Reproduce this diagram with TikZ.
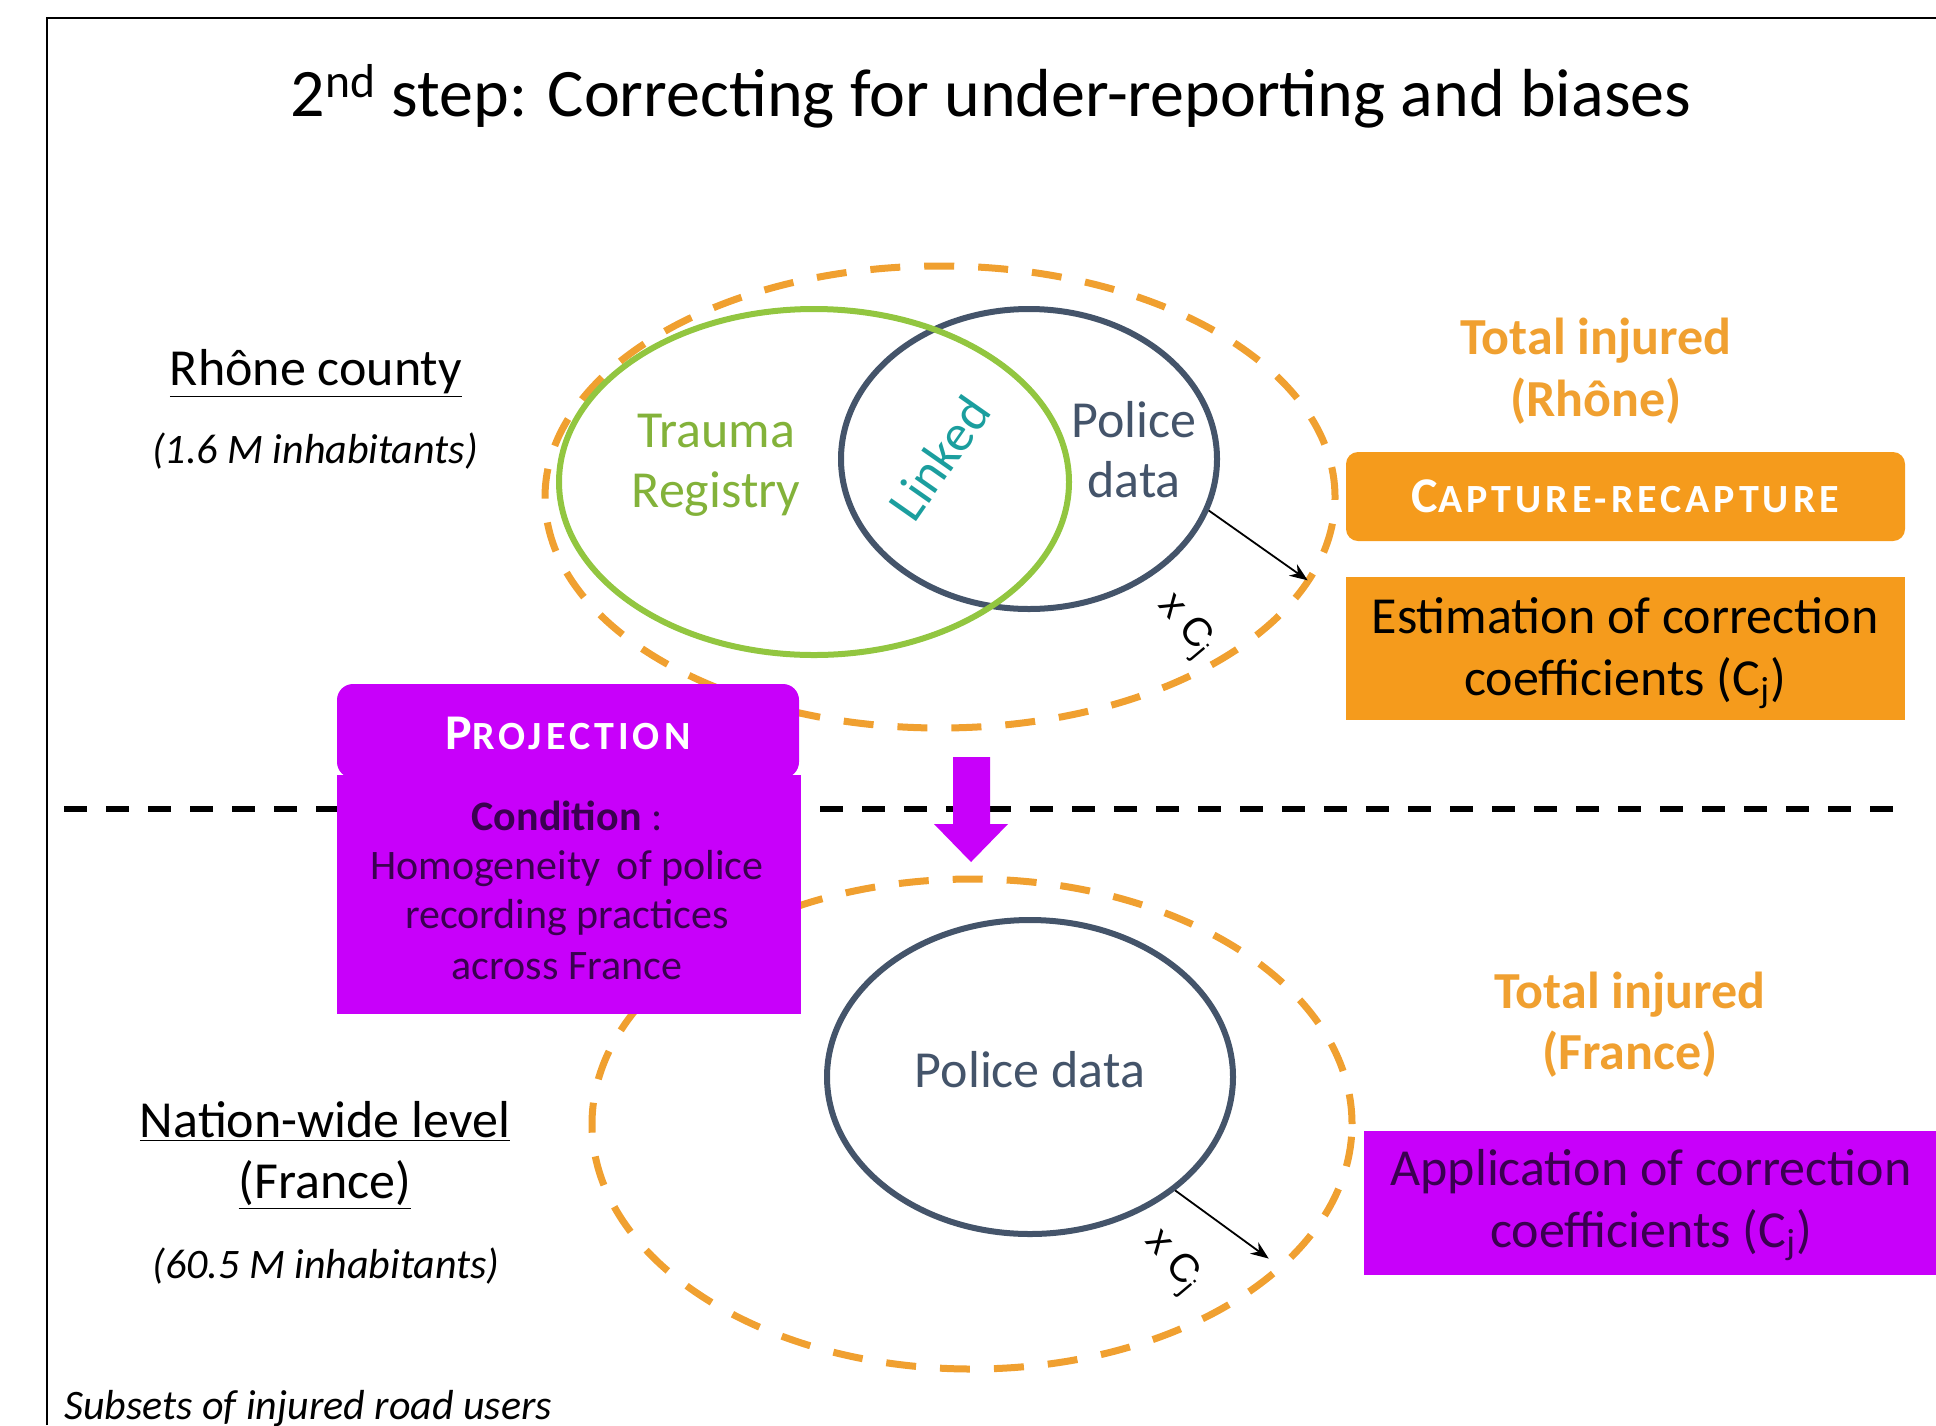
\documentclass[tikz,border=0pt]{standalone}
\usepackage{fontspec}
\setmainfont{Carlito}
\newfontfamily\arialf{Liberation Sans}
\newfontfamily\spc[LetterSpace=10]{Carlito}
\usetikzlibrary{shapes.geometric,arrows.meta}
\definecolor{orD}{HTML}{F0A030}
\definecolor{orB}{HTML}{F59B1C}
\definecolor{mag}{HTML}{C800FA}
\definecolor{grn}{HTML}{92C640}
\definecolor{slate}{HTML}{44546A}
\definecolor{tealc}{HTML}{1B9E9E}
\definecolor{darkpur}{HTML}{3A0050}
\begin{document}
\begin{tikzpicture}[x=0.5pt,y=-0.5pt,
  lab/.style={inner sep=0pt, anchor=base, font=\fontsize{26pt}{30pt}\selectfont},
  labit/.style={inner sep=0pt, anchor=base, font=\fontsize{21pt}{25pt}\selectfont\itshape},
  totlab/.style={inner sep=0pt, anchor=base, text=orD, font=\fontsize{26pt}{30pt}\selectfont\bfseries},
  orset/.style={ellipse, draw=orD, line width=3.5pt, dash pattern=on 15pt off 12pt, inner sep=0pt},
  polset/.style={ellipse, draw=slate, line width=3pt, inner sep=0pt},
  cjarrow/.style={-{Stealth[length=9pt,width=7pt]}, line width=0.9pt, black},
  cjlab/.style={inner sep=0pt, rotate=-50, font=\arialf\fontsize{20pt}{24pt}\selectfont},
  boxset/.style={inner sep=0pt, draw=none},
  captxt/.style={inner sep=0pt, text=white, font=\spc\bfseries},
  condtxt/.style={inner sep=0pt, anchor=base, text=darkpur, font=\fontsize{21pt}{25pt}\selectfont}
]
\useasboundingbox (0,0) rectangle (1936,1425);

% frame
\draw[line width=1.2pt] (47,1425) -- (47,18) -- (1936,18);

% title
\node[inner sep=0pt, anchor=base, font=\fontsize{34pt}{40pt}\selectfont] (title) at (991,116)
  {2\textsuperscript{nd} step: Correcting for under-reporting and biases};

% separating dashed line
\draw[line width=2.8pt, dash pattern=on 11.5pt off 9.5pt] (64,809) -- (1908,809);

% ---- Rhone part
\node[orset, minimum width=395pt, minimum height=231pt] (totR) at (940,497) {};
\node[polset, minimum width=188pt, minimum height=150pt] (polR) at (1029,459) {};
\node[ellipse, draw=grn, line width=3pt, inner sep=0pt, minimum width=255pt, minimum height=173pt] (trauma) at (814,482) {};

\node[lab, text=grn!90!black] (tr1) at (716,447) {Trauma};
\node[lab, text=grn!90!black] (tr2) at (716,507) {Registry};
\node[lab, text=slate] (po1) at (1134,437) {Police};
\node[lab, text=slate] (po2) at (1134,497) {data};
\node[inner sep=0pt, rotate=55, text=tealc, font=\fontsize{26pt}{30pt}\selectfont] (linked) at (939,458) {Linked};

\draw[cjarrow, shorten >=2pt] (polR.-16) -- (totR.-13.5);
\node[cjlab] (cjR) at (1185,626) {x C\textsubscript{j}};

\node[lab] (rc) at (316,385) {\underline{Rhône county}};
\node[labit] (rcinh) at (315,463) {(1.6 M inhabitants)};

\node[totlab] (tot1a) at (1596,354) {Total injured};
\node[totlab] (tot1b) at (1596,416) {(Rhône)};

\node[boxset, fill=orB, rounded corners=6pt, minimum width=279.5pt, minimum height=44.5pt] (capbox) at (1625.5,496.5) {};
\node[captxt] (captxt) at (capbox.center) {{\fontsize{25pt}{30pt}\selectfont C}{\fontsize{20pt}{24pt}\selectfont APTURE-RECAPTURE}};

\node[boxset, fill=orB, minimum width=279.5pt, minimum height=71.5pt] (estbox) at (1625.5,648.5) {};
\node[lab] (est1) at (1625,633) {Estimation of correction};
\node[lab] (est2) at (1625,695) {coefficients (C\textsubscript{j})};

% ---- France part
\node[orset, minimum width=380pt, minimum height=245pt] (totF) at (972,1124) {};
\node[polset, minimum width=203pt, minimum height=157pt] (polF) at (1030,1077) {};
\node[lab, text=slate] (pof) at (1030,1087) {Police data};

\draw[cjarrow, shorten >=9pt] (polF.-38.6) -- (totF.-25.7);
\node[cjlab] (cjF) at (1172,1262) {x C\textsubscript{j}};

\node[lab] (nw1) at (325,1137) {\underline{Nation-wide level}};
\node[lab] (nw2) at (325,1198) {\underline{(France)}};
\node[labit] (nwinh) at (326,1278) {(60.5 M inhabitants)};

\node[totlab] (tot2a) at (1630,1008) {Total injured};
\node[totlab] (tot2b) at (1630,1069) {(France)};

\node[boxset, fill=mag, minimum width=286pt, minimum height=72pt, anchor=west] (appbox) at (1364,1203) {};
\node[lab, text=darkpur] (app1) at (1651,1185) {Application of correction};
\node[lab, text=darkpur] (app2) at (1651,1247) {coefficients (C\textsubscript{j})};

% ---- Projection boxes
\node[boxset, fill=mag, rounded corners=8pt, minimum width=231pt, minimum height=47pt] (projbox) at (568,731) {};
\node[captxt] (projtxt) at (568,733) {{\fontsize{25pt}{30pt}\selectfont P}{\fontsize{20pt}{24pt}\selectfont ROJECTION}};
\node[boxset, fill=mag, minimum width=232pt, minimum height=119.5pt] (condbox) at (569,894.5) {};
\node[condtxt] (c1) at (567,830) {\textbf{Condition} :};
\node[condtxt] (c2) at (567,879) {Homogeneity\, of police};
\node[condtxt] (c3) at (567,928) {recording practices};
\node[condtxt] (c4) at (567,979) {across France};

% projection arrow
\fill[mag] (953,757) -- (990,757) -- (990,824) -- (1008,824) -- (971,862) -- (934,824) -- (953,824) -- cycle;

% footnote
\node[labit, anchor=base west] (subsets) at (64,1419) {Subsets of injured road users};
\end{tikzpicture}
\end{document}
